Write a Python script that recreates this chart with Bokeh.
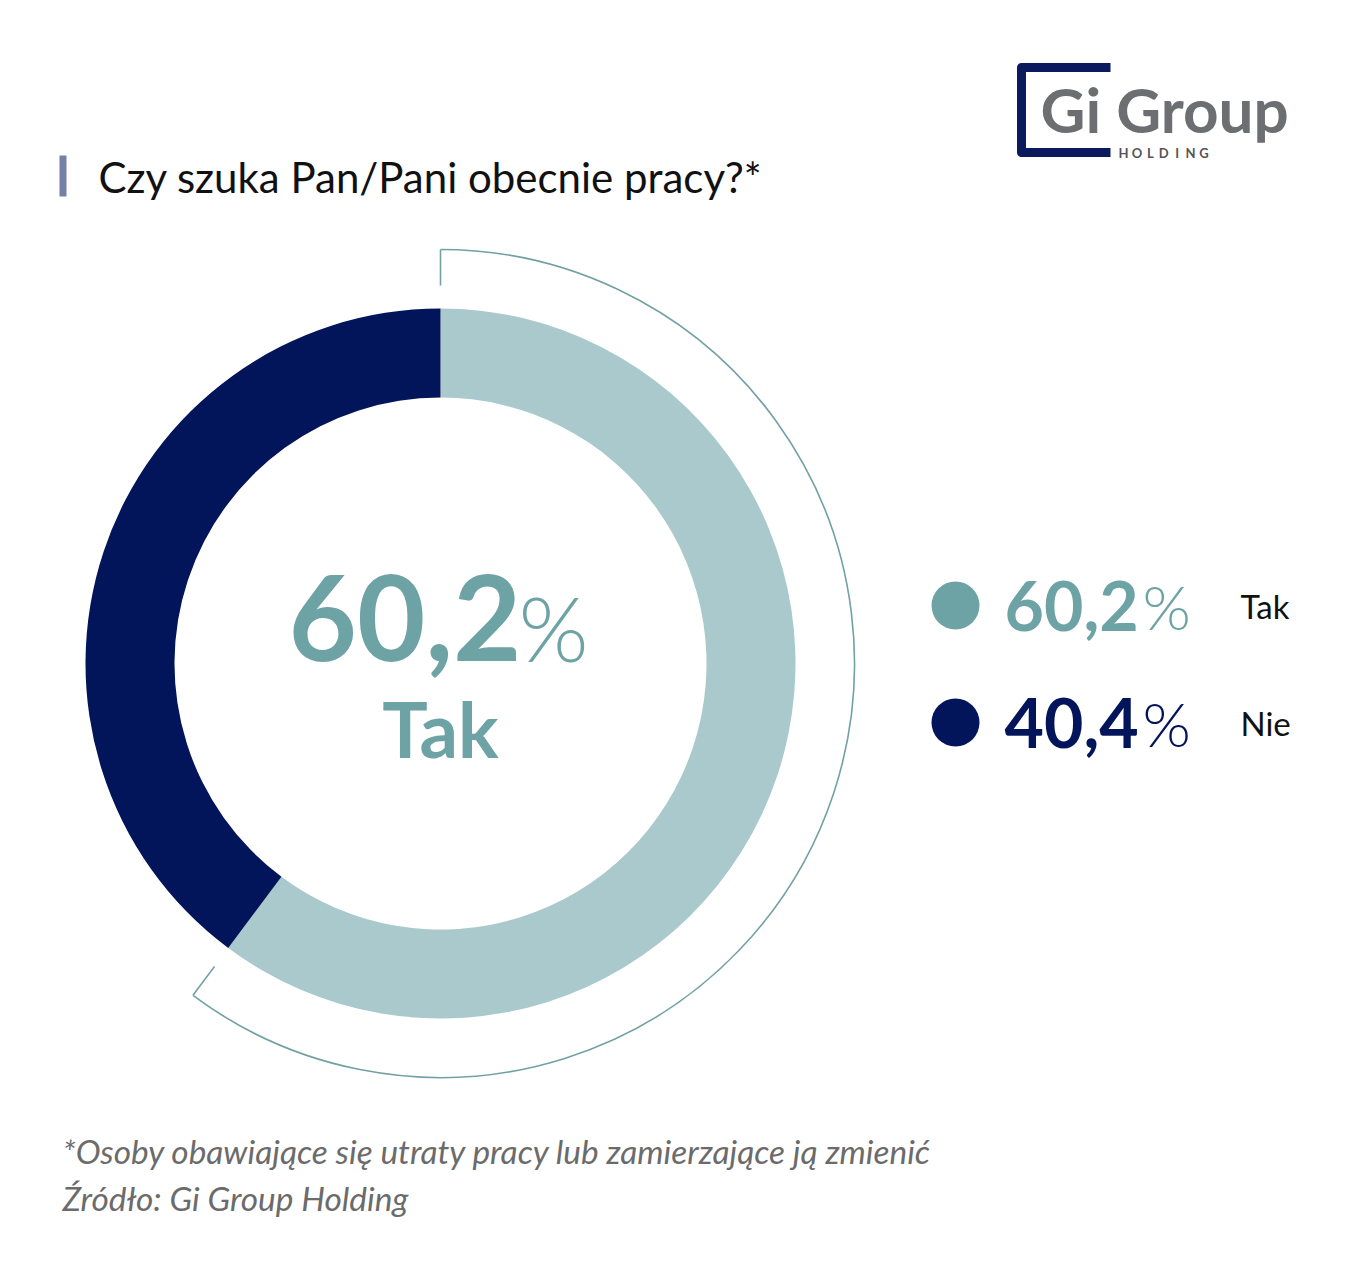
import math
from bokeh.plotting import figure
from bokeh.models import Range1d
from bokeh.core.properties import value
from bokeh.embed import file_html
from bokeh.resources import INLINE

# ---- data ----
categories = ["Tak", "Nie"]
shares = [60.2, 40.4]
share_labels = ["60,2", "40,4"]
ring_colors = ["#a9c9cc", "#02155a"]
text_colors = ["#6ea3a6", "#02155a"]

title = "Czy szuka Pan/Pani obecnie pracy?*"
footnote = "*Osoby obawiające się utraty pracy lub zamierzające ją zmienić"
source = "Źródło: Gi Group Holding"

# ---- layout ----
W, H = 1345, 1265
def Y(v):
    return H - v

p = figure(width=W, height=H, x_range=Range1d(0, W), y_range=Range1d(0, H),
           output_backend="svg", toolbar_location=None, min_border=0)
p.axis.visible = False
p.grid.visible = False
p.outline_line_color = None
p.background_fill_color = "white"
p.border_fill_color = "white"

FONT = value("Lato")
LIGHT = value("'Lato Light', Lato")
cx, cy = 440, Y(663)
r_in, r_out = 266, 355

tak_frac = shares[0] / 100.0
start = math.pi / 2
end_tak = start - 2 * math.pi * tak_frac

# donut
p.annular_wedge(x=cx, y=cy, inner_radius=r_in, outer_radius=r_out,
                start_angle=start, end_angle=end_tak, direction="clock",
                fill_color=ring_colors[0], line_color=None)
p.annular_wedge(x=cx, y=cy, inner_radius=r_in, outer_radius=r_out,
                start_angle=end_tak, end_angle=start, direction="clock",
                fill_color=ring_colors[1], line_color=None)

# outer bracket arc around Tak
r_arc, r_tick = 414, 378
arc_color = "#72a1a4"
p.arc(x=cx, y=cy, radius=r_arc, start_angle=start, end_angle=end_tak,
      direction="clock", line_color=arc_color, line_width=1.6)
for a in (start, end_tak):
    p.segment(x0=cx + r_tick * math.cos(a), y0=cy + r_tick * math.sin(a),
              x1=cx + r_arc * math.cos(a), y1=cy + r_arc * math.sin(a),
              line_color=arc_color, line_width=1.6)

def txt(x, y, s, size, color, align="left", style="normal", font=FONT):
    p.text(x=[x], y=[Y(y)], text=[s], text_align=align, text_baseline="middle",
           text_font=font, text_font_style=style, text_font_size=size, text_color=color)

# center label
txt(521, 617, share_labels[0], "118px", text_colors[0], "right", "bold")
txt(518, 626, "%", "90px", text_colors[0], "left", "normal", LIGHT)
txt(440, 728, categories[0], "76px", text_colors[0], "center", "bold")

# legend
leg_y = [605, 722]
for i in range(2):
    yy = leg_y[i]
    p.scatter(x=[955], y=[Y(yy)], size=48, marker="circle",
              fill_color=text_colors[i], line_color=None)
    txt(1004, yy, share_labels[i], "68px", text_colors[i], "left", "bold")
    txt(1142, yy, "%", "62px", text_colors[i], "left", "normal", LIGHT)
    txt(1240, yy, categories[i], "33px", "#111111", "left", "normal")

# title
p.quad(left=59, right=66, bottom=Y(196), top=Y(155), fill_color="#7480a8", line_color=None)
txt(98, 176, title, "42px", "#111111")

# footnotes
txt(62, 1150, footnote, "33.4px", "#6b6b6b", "left", "italic")
txt(62, 1197, source, "33.4px", "#6b6b6b", "left", "italic")

# logo
navy = "#0a1a5c"
p.line(x=[1110, 1021, 1021, 1110], y=[Y(67), Y(67), Y(152), Y(152)],
       line_color=navy, line_width=9, line_join="round")
txt(1040, 108, "Gi Group", "62px", "#6d6e71", "left", "bold")
holding = "HOLDING"
p.text(x=[1123 + 13.4 * k for k in range(len(holding))], y=[Y(152)] * len(holding),
       text=list(holding), text_align="center", text_baseline="middle",
       text_font=FONT, text_font_style="bold", text_font_size="13px", text_color="#555555")

open("out.html", "w").write(file_html(p, INLINE))
